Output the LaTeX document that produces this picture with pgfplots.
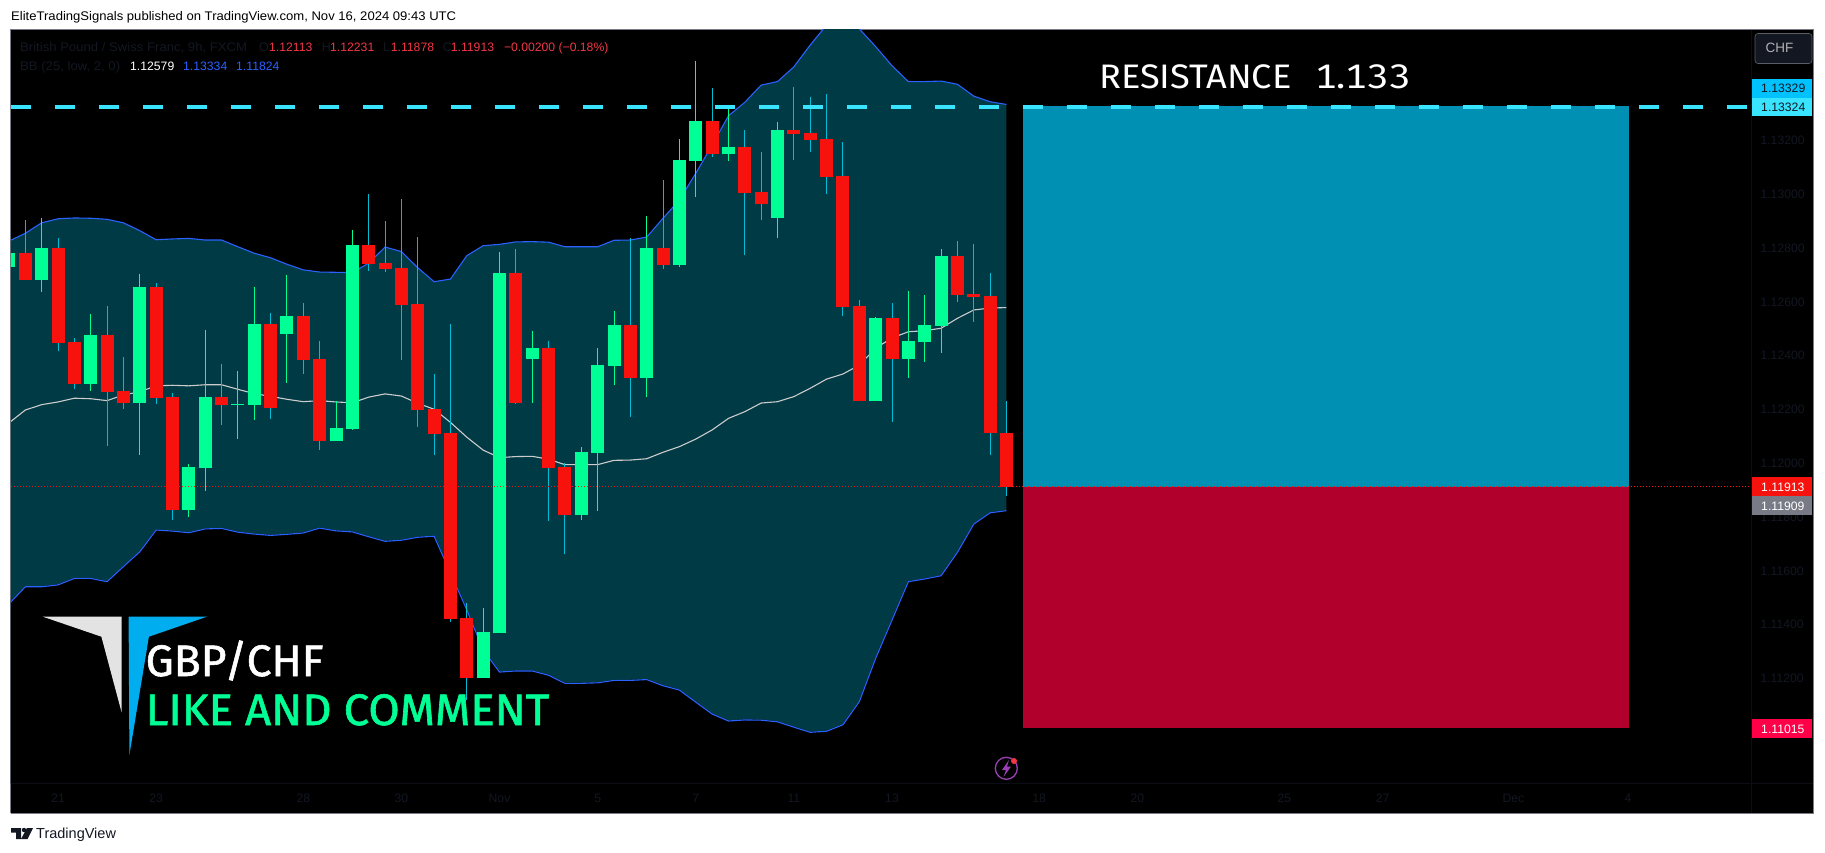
\documentclass[border=0pt]{standalone}
\usepackage{fontspec}
\usepackage{pgfplots}
\usepackage{pgfplotstable}
\pgfplotsset{compat=1.18}
\setmainfont{Liberation Sans}
\newfontfamily\firaf{Fira Sans}
\newfontfamily\firatab{Fira Sans}[Numbers=Monospaced]
\newfontfamily\bigf{Fira Sans}[FakeBold=1.3]
\definecolor{band}{HTML}{003A44}
\definecolor{bgreen}{HTML}{00FF94}
\definecolor{bred}{HTML}{F7120D}
\definecolor{wcyan}{HTML}{00BCD4}
\definecolor{bbblue}{HTML}{2962FF}
\definecolor{dim}{HTML}{131722}
\definecolor{lcy}{HTML}{38E4FF}
\definecolor{lred}{HTML}{F23645}
\definecolor{fr}{HTML}{787B86}
\definecolor{rectb}{HTML}{0090B4}
\definecolor{rectr}{HTML}{B2002D}
\definecolor{lblb}{HTML}{00C2FF}
\definecolor{lblp}{HTML}{FF0048}
\definecolor{logob}{HTML}{00ADEE}
\definecolor{evt}{HTML}{9C3FB5}
\pgfplotstableread{
x h t b l
-1 1.12782 1.12782 1.12730 1.12730
1 1.12912 1.12800 1.12681 1.12637
4 1.12555 1.12477 1.12295 1.12269
7 1.12704 1.12655 1.12224 1.12031
10 1.11997 1.11986 1.11826 1.11800
11 1.12496 1.12246 1.11983 1.11897
13 1.12343 1.12220 1.12217 1.12090
14 1.12655 1.12518 1.12217 1.12161
16 1.12700 1.12548 1.12481 1.12299
19 1.12232 1.12131 1.12083 1.12083
20 1.12867 1.12812 1.12128 1.12124
28 1.11462 1.11373 1.11202 1.11202
29 1.12786 1.12707 1.11369 1.11369
31 1.12492 1.12429 1.12388 1.12224
34 1.12061 1.12042 1.11808 1.11789
35 1.12429 1.12365 1.12038 1.11823
36 1.12566 1.12514 1.12362 1.12291
38 1.12919 1.12800 1.12317 1.12246
40 1.13206 1.13128 1.12737 1.12730
41 1.13496 1.13273 1.13124 1.12990
43 1.13325 1.13176 1.13150 1.13124
46 1.13269 1.13239 1.12912 1.12838
52 1.12544 1.12540 1.12232 1.12232
54 1.12641 1.12455 1.12388 1.12317
55 1.12626 1.12514 1.12451 1.12377
56 1.12797 1.12771 1.12510 1.12410
}\greentable
\pgfplotstableread{
x h t b l
0 1.12904 1.12782 1.12681 1.12681
2 1.12838 1.12800 1.12447 1.12417
3 1.12466 1.12451 1.12295 1.12276
5 1.12585 1.12477 1.12265 1.12064
6 1.12395 1.12269 1.12224 1.12202
8 1.12670 1.12655 1.12243 1.12220
9 1.12261 1.12246 1.11826 1.11789
12 1.12369 1.12246 1.12217 1.12142
15 1.12559 1.12518 1.12206 1.12165
17 1.12596 1.12548 1.12384 1.12332
18 1.12455 1.12388 1.12083 1.12049
21 1.13001 1.12812 1.12741 1.12715
22 1.12901 1.12745 1.12722 1.12711
23 1.12983 1.12726 1.12589 1.12384
24 1.12841 1.12592 1.12198 1.12135
25 1.12332 1.12202 1.12109 1.12031
26 1.12518 1.12113 1.11421 1.11410
27 1.11481 1.11425 1.11202 1.11120
30 1.12797 1.12707 1.12224 1.12220
32 1.12455 1.12429 1.11983 1.11786
33 1.12001 1.11986 1.11808 1.11663
37 1.12838 1.12514 1.12317 1.12172
39 1.13053 1.12800 1.12737 1.12722
42 1.13395 1.13273 1.13150 1.13139
44 1.13239 1.13176 1.13005 1.12774
45 1.13157 1.13009 1.12964 1.12904
47 1.13399 1.13239 1.13224 1.13128
48 1.13362 1.13228 1.13202 1.13157
49 1.13373 1.13206 1.13064 1.13001
50 1.13194 1.13068 1.12581 1.12548
51 1.12607 1.12585 1.12232 1.12232
53 1.12596 1.12540 1.12388 1.12154
57 1.12826 1.12771 1.12626 1.12600
58 1.12815 1.12629 1.12618 1.12525
59 1.12707 1.12622 1.12113 1.12031
60 1.12231 1.12113 1.11913 1.11878
}\redtable
\pgfplotstableread{
x up mid lo
-1 1.12826 1.12150 1.11477
0 1.12855 1.12198 1.11541
1 1.12894 1.12218 1.11541
2 1.12909 1.12228 1.11548
3 1.12912 1.12242 1.11572
4 1.12911 1.12240 1.11572
5 1.12907 1.12233 1.11560
6 1.12894 1.12254 1.11616
7 1.12865 1.12266 1.11671
8 1.12831 1.12288 1.11752
9 1.12834 1.12290 1.11748
10 1.12836 1.12288 1.11742
11 1.12830 1.12292 1.11756
12 1.12830 1.12292 1.11758
13 1.12805 1.12275 1.11744
14 1.12781 1.12259 1.11737
15 1.12764 1.12249 1.11732
16 1.12740 1.12238 1.11736
17 1.12719 1.12229 1.11741
18 1.12711 1.12233 1.11759
19 1.12710 1.12228 1.11749
20 1.12709 1.12225 1.11745
21 1.12744 1.12246 1.11727
22 1.12804 1.12258 1.11710
23 1.12787 1.12250 1.11714
24 1.12727 1.12223 1.11725
25 1.12675 1.12201 1.11729
26 1.12685 1.12152 1.11592
27 1.12772 1.12097 1.11455
28 1.12809 1.12049 1.11306
29 1.12814 1.12021 1.11224
30 1.12823 1.12025 1.11228
31 1.12824 1.12026 1.11228
32 1.12822 1.12015 1.11212
33 1.12805 1.11995 1.11182
34 1.12805 1.11995 1.11182
35 1.12805 1.11995 1.11184
36 1.12829 1.12011 1.11193
37 1.12830 1.12012 1.11193
38 1.12841 1.12017 1.11196
39 1.12911 1.12041 1.11173
40 1.12979 1.12062 1.11157
41 1.13078 1.12090 1.11112
42 1.13183 1.12124 1.11068
43 1.13292 1.12167 1.11042
44 1.13342 1.12192 1.11046
45 1.13406 1.12224 1.11045
46 1.13419 1.12229 1.11039
47 1.13474 1.12248 1.11019
48 1.13555 1.12279 1.11000
49 1.13629 1.12313 1.11004
50 1.13670 1.12332 1.11028
51 1.13615 1.12365 1.11114
52 1.13549 1.12428 1.11275
53 1.13478 1.12466 1.11417
54 1.13419 1.12489 1.11560
55 1.13419 1.12493 1.11570
56 1.13421 1.12502 1.11582
57 1.13409 1.12539 1.11669
58 1.13365 1.12570 1.11774
59 1.13344 1.12577 1.11816
60 1.13334 1.12579 1.11824
}\bbtable
\newcommand{\T}[5]{\node[anchor=base west,inner sep=0pt,text=#4,font=\fontsize{#3}{#3}\selectfont] at (#1,#2) {#5};}
\newcommand{\TS}[6]{\node[anchor=base west,inner sep=0pt,xscale=#5,text=#4,font=\fontsize{#3}{#3}\selectfont] at (#1,#2) {#6};}
\begin{document}
\begin{tikzpicture}[x=1pt,y=-1pt]
\fill[white] (0,0) rectangle (1825,853);
\fill[black] (11,30) rectangle (1813,813);
\draw[fr,line width=1pt] (10.5,813) -- (10.5,29.5) -- (1813.5,29.5) -- (1813.5,813) -- (10.5,813);
\begin{axis}[
  at={(11pt,-783pt)},anchor=south west,
  scale only axis,width=1740.5pt,height=753pt,
  xmin=-0.8745,xmax=105.56,ymin=1.108115,ymax=1.136108,
  axis line style={draw=none},
  major tick length=0pt,
  xtick={2,8,17,23,29,35,41,47,53,62,68,77,83,91,98},
  xticklabels={21,23,28,30,Nov,5,7,11,13,18,20,25,27,Dec,4},
  ytick={1.112,1.114,1.116,1.118,1.12,1.122,1.124,1.126,1.128,1.13,1.132},
  yticklabel pos=right,
  scaled y ticks=false,
  yticklabel style={/pgf/number format/.cd,fixed,fixed zerofill,precision=5,assume math mode=true,/tikz/.cd,anchor=west,xshift=5.5pt,font=\fontsize{12.2}{13}\selectfont,text=dim},
  xticklabel style={anchor=base,yshift=-19pt,font=\fontsize{12.2}{13}\selectfont,text=dim},
  clip=true,
]
\addplot[fill=band,draw=none] table[x=x,y=up] {\bbtable} \closedcycle;
\addplot[fill=black,draw=black,line width=1.2pt] table[x=x,y=lo] {\bbtable} \closedcycle;
\addplot[bbblue,line width=1.1pt] table[x=x,y=up] {\bbtable};
\addplot[bbblue,line width=1.1pt] table[x=x,y=lo] {\bbtable};
\addplot[white!80!black,line width=1.1pt] table[x=x,y=mid] {\bbtable};
\addplot[fill=rectb,draw=none] coordinates {(61,1.11913)(98.07,1.11913)(98.07,1.13329)(61,1.13329)} -- cycle;
\addplot[fill=rectr,draw=none] coordinates {(61,1.11015)(98.07,1.11015)(98.07,1.11913)(61,1.11913)} -- cycle;
% wicks
\addplot[draw=none,mark=none,error bars/.cd,y dir=both,y explicit,error mark=none,error bar style={line width=1pt,color=wcyan}]
  table[x=x,y=t,y error plus expr=\thisrow{h}-\thisrow{t},y error minus expr=\thisrow{t}-\thisrow{l}] {\redtable};
\addplot[draw=none,mark=none,error bars/.cd,y dir=both,y explicit,error mark=none,error bar style={line width=1pt,color=bgreen}]
  table[x=x,y=t,y error plus expr=\thisrow{h}-\thisrow{t},y error minus expr=\thisrow{t}-\thisrow{l}] {\greentable};
% bodies
\addplot[draw=none,mark=none,error bars/.cd,y dir=minus,y explicit,error mark=none,error bar style={line width=13pt,color=bred}]
  table[x=x,y=t,y error minus expr=\thisrow{t}-\thisrow{b}] {\redtable};
\addplot[draw=none,mark=none,error bars/.cd,y dir=minus,y explicit,error mark=none,error bar style={line width=13pt,color=bgreen}]
  table[x=x,y=t,y error minus expr=\thisrow{t}-\thisrow{b}] {\greentable};
\addplot[lcy,line width=4pt,dash pattern=on 20pt off 24pt] coordinates {(-0.8745,1.13324)(105.56,1.13324)};
\addplot[bred,line width=1pt,dash pattern=on 1pt off 2pt] coordinates {(-0.8745,1.11913)(105.56,1.11913)};
\end{axis}
% panes
\draw[dim!60!black,line width=.6pt] (1751.5,30) -- (1751.5,813);
\draw[dim!60!black,line width=.6pt] (11,783) -- (1813,783);
% header / footer
\TS{11}{21}{12.5}{black}{1.046}{EliteTradingSignals published on TradingView.com, Nov 16, 2024 09:43 UTC}
\T{36}{838.5}{14.5}{dim}{TradingView}
\fill[dim] (11,828) -- (21,828) -- (21,839) -- (16,839) -- (16,832.5) -- (11,832.5) -- cycle;
\fill[dim] (24,830) circle (2.2);
\fill[dim] (27,828) -- (33,828) -- (27.5,839) -- (21,839) -- cycle;
% legend
\TS{20}{51.5}{12.5}{dim}{1.05}{British Pound / Swiss Franc, 9h, FXCM}
\T{259}{51.5}{12.5}{dim}{O}\T{269}{51.5}{12.2}{lred}{1.12113}
\T{321.7}{51.5}{12.5}{dim}{H}\T{330}{51.5}{12.2}{lred}{1.12231}
\T{383}{51.5}{12.5}{dim}{L}\T{390.7}{51.5}{12.2}{lred}{1.11878}
\T{442.7}{51.5}{12.5}{dim}{C}\T{450.7}{51.5}{12.2}{lred}{1.11913}
\T{503.8}{51.5}{12.2}{lred}{−0.00200 (−0.18\%)}
\TS{20}{70.5}{12.5}{dim}{1.05}{BB (25, low, 2, 0)}
\T{130}{70.5}{12.2}{white}{1.12579}
\T{183}{70.5}{12.2}{bbblue}{1.13334}
\T{236}{70.5}{12.2}{bbblue}{1.11824}
% price labels
\fill[dim,draw=dim!70!white,line width=.6pt,rounded corners=3pt] (1755,33.5) rectangle (1812,63.5);
\T{1765.5}{53}{13.5}{white!70!black}{CHF}
\fill[lblb] (1752,79.3) rectangle (1812,97.7);
\fill[lcy] (1752,97.7) rectangle (1812,116);
\fill[bred] (1752,477) rectangle (1812,495.7);
\fill[fr] (1752,496) rectangle (1812,514.7);
\fill[lblp] (1752,719) rectangle (1812,737.7);
\T{1761}{93}{12.2}{dim}{1.13329}
\T{1761}{111.5}{12.2}{dim}{1.13324}
\T{1761}{491}{12.2}{white}{1.11913}
\T{1761}{510}{12.2}{white}{1.11909}
\T{1761}{733}{12.2}{white}{1.11015}
% logo and annotations
\fill[white!89!black] (42.9,616.7) -- (121.7,616.7) -- (121.7,712.7) -- (101.4,636.7) -- cycle;
\fill[logob] (128.6,616.7) -- (207,616.7) -- (148.9,636.7) -- (129.4,755) -- cycle;
\node[anchor=base west,inner sep=0pt,text=white,xscale=1.01,font=\fontsize{44}{44}\bigf] at (145.5,676) {GBP/CHF};
\node[anchor=base west,inner sep=0pt,text=bgreen,xscale=1.035,font=\fontsize{44}{44}\bigf] at (145.5,725) {LIKE AND COMMENT};
\node[anchor=base west,inner sep=0pt,text=white,xscale=1.065,font=\fontsize{34}{34}\firaf] at (1099,89) {RESISTANCE};
\node[anchor=base west,inner sep=0pt,text=white,xscale=1.13,font=\fontsize{34}{34}\firatab] at (1315,89) {1.133};
% event icon
\draw[evt,line width=1.3pt] (1006.3,768.3) circle (11);
\fill[evt] (1009,760) -- (1002,770) -- (1006,770) -- (1003.5,777) -- (1011,766.5) -- (1007,766.5) -- cycle;
\fill[lred] (1014,761) circle (3);
\end{tikzpicture}
\end{document}
